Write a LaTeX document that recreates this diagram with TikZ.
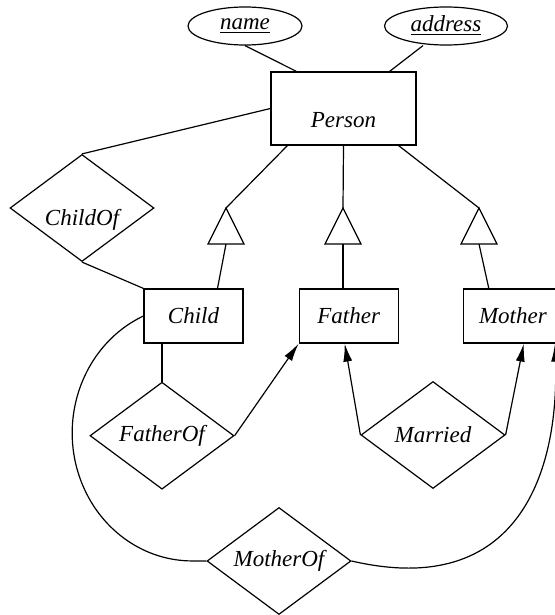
\documentclass[tikz,border=0pt]{standalone}
\usepackage{fontspec}
\setmainfont{Liberation Serif}
\usetikzlibrary{arrows.meta, positioning, shapes.geometric}

\begin{document}
\begin{tikzpicture}[
    x=0.5pt, y=-0.5pt, line width=0.6pt,
    every node/.style={font=\fontsize{11.5}{13}\selectfont\itshape},
    entity/.style={rectangle, draw, minimum width=49.5pt, minimum height=27pt, inner sep=0pt},
    attr/.style={ellipse, draw, minimum height=19pt, inner sep=0pt},
    rel/.style={diamond, draw, aspect=1.35, minimum width=72pt, minimum height=53.5pt, inner sep=0pt},
    isa/.style={draw, line join=miter},
    arr/.style={-{Latex[length=9pt, width=4.5pt]}},
]
\useasboundingbox (0,0) rectangle (554,615);

% entities and attributes
\node[entity, minimum width=72.5pt, minimum height=36.5pt, text height=19pt, text depth=0pt] (person) at (343.5,108.5) {Person};
\node[attr, minimum width=57pt] (name) at (245,26) {\underline{name}};
\node[attr, minimum width=61.5pt] (address) at (446,26) {\underline{address}};
\node[entity] (child) at (193.5,316) {Child};
\node[entity, right=27.5pt of child] (father) {Father};
\node[entity, right=32pt of father] (mother) {Mother};

% relationships
\node[rel, text height=17pt, text depth=0pt] (childof) at (82,208) {ChildOf};
\node[rel, below=19pt of child, xshift=-15.75pt] (fatherof) {FatherOf};
\node[rel] (married) at (433,435) {Married};
\node[rel] (motherof) at (279,561) {MotherOf};

% isa triangles
\coordinate (isachild) at (226,208);
\coordinate (isafather) at (343,208);
\coordinate (isamother) at (479,208);
\foreach \t in {isachild, isafather, isamother} {
  \draw[isa] (\t) -- ++(-18,36) -- ++(36,0) -- cycle;
  \path (\t) ++(0,36) coordinate (\t-b);
}

% connectors
\draw (name.south) -- ([xshift=13pt]person.north west);
\draw ([xshift=-11.5pt]address.south) -- ([xshift=-13.5pt]person.north east);
\draw (person.west) -- (childof.north);
\draw (childof.south) -- (child.north west);
\draw ([xshift=8.5pt]person.south west) -- (isachild);
\draw (person.south) -- (isafather);
\draw ([xshift=-9pt]person.south east) -- (isamother);
\draw (isachild-b) -- ([xshift=12pt]child.north);
\draw (isafather-b) -- (isafather-b |- father.north);
\draw (isamother-b) -- ([xshift=13pt]mother.north west);
\draw (fatherof.north) -- (fatherof.north |- child.south);
\draw[arr] (fatherof.east) -- (father.south west);
\draw[arr] (married.west) -- ([xshift=-2pt]father.south);
\draw[arr] (married.east) -- ([xshift=30.5pt]mother.south west);
\draw (child.west) arc[start angle=-114, end angle=-270, x radius=120, y radius=128] -- (motherof.west);
\draw[arr] (motherof.east) .. controls +(168,39) and +(4,127) .. ([xshift=-4pt]mother.south east);
\end{tikzpicture}
\end{document}
